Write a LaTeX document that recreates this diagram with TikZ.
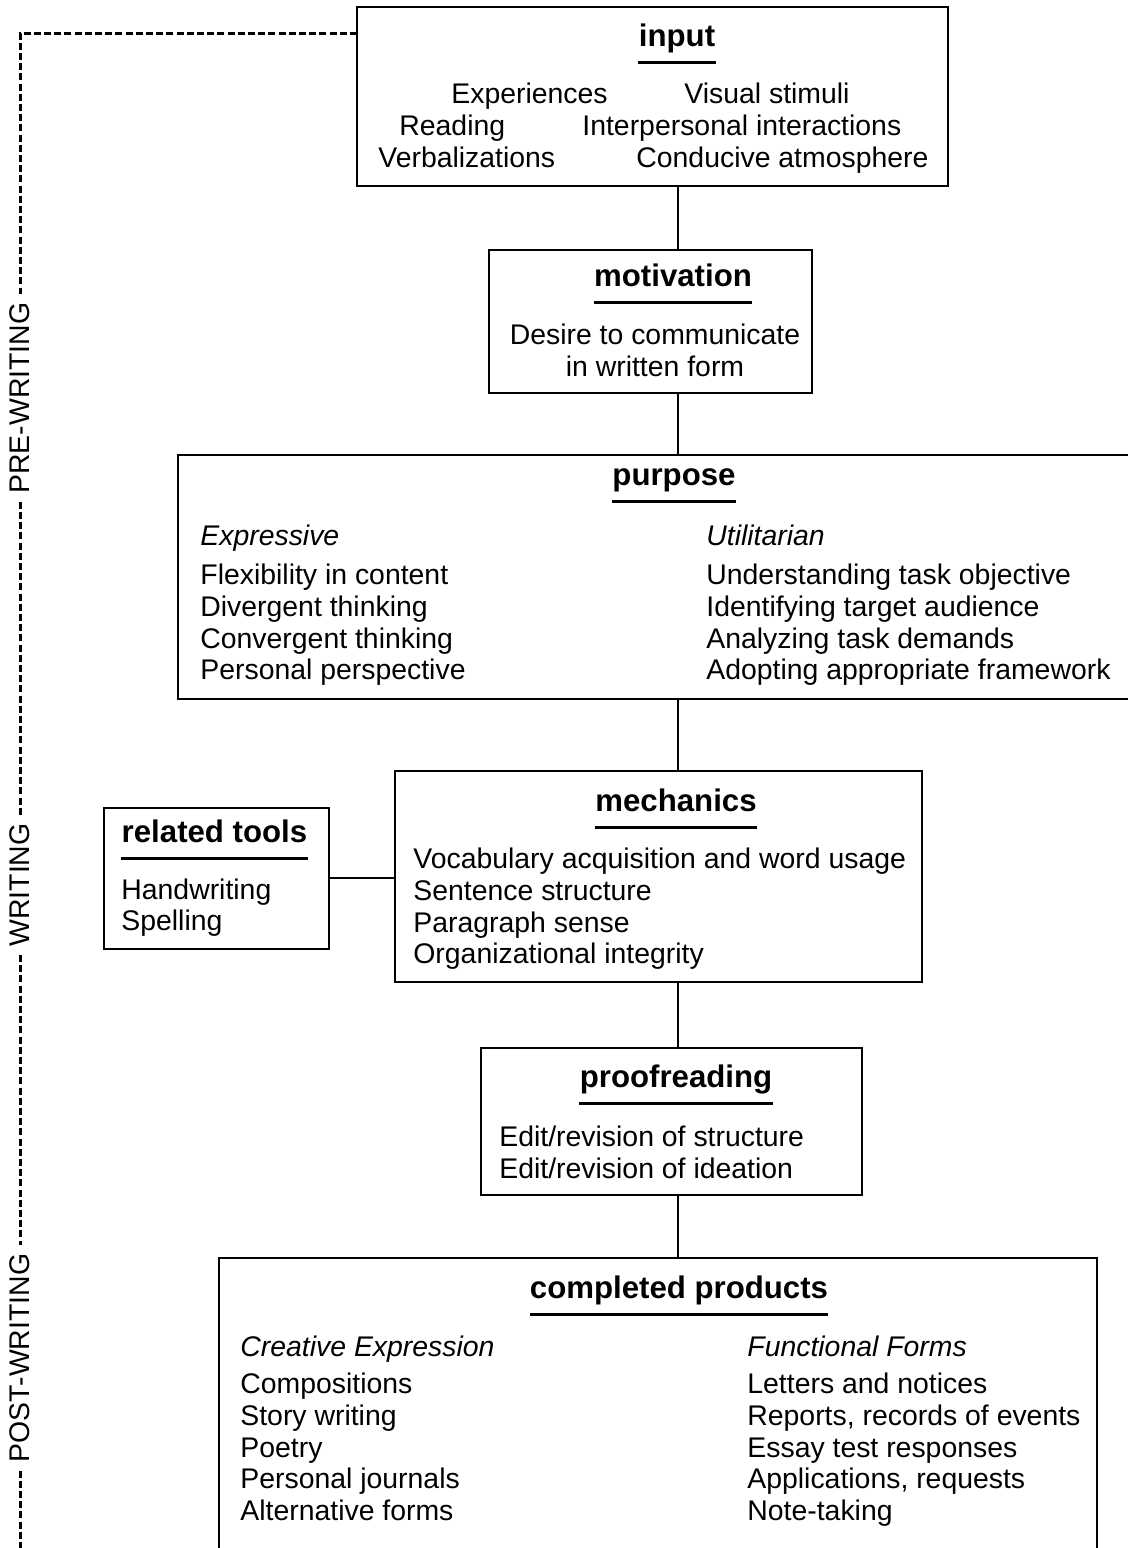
\documentclass[tikz,border=0pt]{standalone}
\usepackage{fontspec}
\setmainfont{Liberation Sans}
\begin{document}
\begin{tikzpicture}[x=0.5pt,y=-0.5pt,
    box/.style={draw,line width=1pt,inner sep=0pt,outer sep=0pt},
    head/.style={font=\fontsize{15.6}{18}\selectfont\bfseries,inner sep=0pt,anchor=base},
    item/.style={font=\fontsize{14.2}{16}\selectfont,inner sep=0pt,anchor=base west},
    kind/.style={item,font=\fontsize{14.2}{16}\selectfont\itshape},
    link/.style={line width=0.8pt},
    rule/.style={line width=1.2pt},
    phase/.style={font=\fontsize{14.2}{16}\selectfont,rotate=90,inner sep=4pt},
    dashline/.style={line width=1.5pt,dash pattern=on 3.5pt off 1.6pt}]
    \useasboundingbox (0,0) rectangle (1128,1548);
    \clip (0,0) rectangle (1128,1548);
    % boxes
    \node[box,minimum width=295.5pt,minimum height=89.5pt] (input) at (652.5,96.5) {};
    \node[box,minimum width=161.5pt,minimum height=71.5pt] (motiv) at (650.5,321.5) {};
    \node[box,minimum width=481pt,minimum height=122pt] (purp) at (659,577) {};
    \node[box,minimum width=263.5pt,minimum height=105.5pt] (mech) at (658.5,876.5) {};
    \node[box,minimum width=112.5pt,minimum height=70.5pt] (tools) at (216.5,878) {};
    \node[box,minimum width=190.5pt,minimum height=73.5pt] (proof) at (671.5,1121.5) {};
    \node[box,minimum width=439pt,minimum height=171pt] (prod) at (658,1429) {};
    % titles with rule below
    \foreach \n/\t/\x/\y in {input/input/677/46, motiv/motivation/673/286,
        purp/purpose/674/485, mech/mechanics/676/811, tools/related tools/214.5/842,
        proof/proofreading/676/1087, prod/completed products/679/1298}{%
        \node[head] (t-\n) at (\x,\y) {\t};
        \draw[rule] ([yshift=-8.2pt]t-\n.base west) -- ([yshift=-8.2pt]t-\n.base east);
    }
    % input
    \foreach \s/\x/\y [count=\i] in {Experiences/451/103, Visual stimuli/684/103,
        Reading/399/135, Interpersonal interactions/582/135,
        Verbalizations/378/167, Conducive atmosphere/636/167}
        \node[item] (in\i) at (\x,\y) {\s};
    % motivation
    \node[item,anchor=base] (mo1) at (655,344) {Desire to communicate};
    \node[item,anchor=base] (mo2) at (655,376) {in written form};
    % purpose
    \node[kind] (pu0) at (200,545) {Expressive};
    \node[kind] (pv0) at (706,545) {Utilitarian};
    \foreach \s/\y [count=\i] in {Flexibility in content/584, Divergent thinking/616,
        Convergent thinking/648, Personal perspective/679}
        \node[item] (pu\i) at (200,\y) {\s};
    \foreach \s/\y [count=\i] in {Understanding task objective/584,
        Identifying target audience/616, Analyzing task demands/648,
        Adopting appropriate framework/679}
        \node[item] (pv\i) at (706,\y) {\s};
    % mechanics
    \foreach \s/\y [count=\i] in {Vocabulary acquisition and word usage/868,
        Sentence structure/900, Paragraph sense/932, Organizational integrity/963}
        \node[item] (me\i) at (413,\y) {\s};
    % related tools
    \node[item] (to1) at (121,899) {Handwriting};
    \node[item] (to2) at (121,930) {Spelling};
    % proofreading
    \node[item] (pr1) at (499,1146) {Edit/revision of structure};
    \node[item] (pr2) at (499,1178) {Edit/revision of ideation};
    % completed products
    \node[kind] (cp0) at (240,1356) {Creative Expression};
    \node[kind] (cq0) at (747,1356) {Functional Forms};
    \foreach \s/\y [count=\i] in {Compositions/1393, Story writing/1425,
        Poetry/1457, Personal journals/1488, Alternative forms/1520}
        \node[item] (cp\i) at (240,\y) {\s};
    \foreach \s/\y [count=\i] in {Letters and notices/1393,
        {Reports, records of events}/1425, Essay test responses/1457,
        {Applications, requests}/1488, Note-taking/1520}
        \node[item] (cq\i) at (747,\y) {\s};
    % connectors
    \coordinate (spine) at (678,0);
    \draw[link] (input.south -| spine) -- (motiv.north -| spine);
    \draw[link] (motiv.south -| spine) -- (purp.north -| spine);
    \draw[link] (purp.south -| spine) -- (mech.north -| spine);
    \draw[link] (mech.south -| spine) -- (proof.north -| spine);
    \draw[link] (proof.south -| spine) -- (prod.north -| spine);
    \draw[link] (tools.east) -- (tools.east -| mech.west);
    % phases on the left
    \coordinate (corner) at (20,33);
    \coordinate (foot) at (20,1548);
    \node[phase] (pre) at (20,398) {PRE-WRITING};
    \node[phase] (wri) at (20,885) {WRITING};
    \node[phase] (post) at (20,1358) {POST-WRITING};
    \draw[dashline] (corner -| input.west) -- (corner) -- (pre.east);
    \draw[dashline] (pre.west) -- (wri.east);
    \draw[dashline] (wri.west) -- (post.east);
    \draw[dashline] (post.west) -- (foot);
\end{tikzpicture}
\end{document}
